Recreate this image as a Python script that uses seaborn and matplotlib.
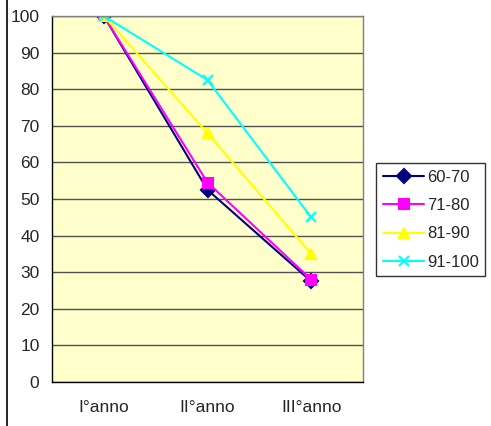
import numpy as np
import pandas as pd
import matplotlib
matplotlib.use('Agg')
import matplotlib.pyplot as plt
import seaborn as sns
from matplotlib.lines import Line2D
from matplotlib.ticker import FixedLocator

# Data
years = ['I°anno', 'II°anno', 'III°anno']
series_names = ['60-70', '71-80', '81-90', '91-100']
v_60_70 = [100, 52.5, 27.5]
v_71_80 = [100, 54.5, 28]
v_81_90 = [100, 68, 35]
v_91_100 = [100, 82.5, 45]

colors = ['#000080', '#FF00FF', '#FFFF00', '#00FFFF']
markers = ['D', 's', '^', 'x']

sns.set_style('white')
plt.rcParams['font.family'] = ['Liberation Sans', 'DejaVu Sans']

fig = plt.figure(figsize=(4.91, 4.26), dpi=100)
ax = fig.add_axes([52 / 491, 1 - 382 / 426, (363 - 52) / 491, (382 - 16) / 426])
ax.set_facecolor('#FFFFCC')

# one lineplot per series (filled and line-art markers can't be mixed in one call)
for name, vals, c, m in zip(series_names, [v_60_70, v_71_80, v_81_90, v_91_100], colors, markers):
    d = pd.DataFrame({'anno': np.arange(len(years)), 'valore': vals})
    sns.lineplot(data=d, x='anno', y='valore', color=c, marker=m, ax=ax,
                 linewidth=1.5, markersize=7.5, markeredgewidth=1.5,
                 markerfacecolor=c, markeredgecolor=c)

ax.set_xlim(-0.5, 2.5)
ax.set_ylim(0, 100)
ax.set_yticks(np.arange(0, 101, 10))
ax.yaxis.grid(True, color='#505050', linewidth=1)
ax.set_axisbelow(True)

ax.xaxis.set_major_locator(FixedLocator([-0.5, 0.5, 1.5, 2.5]))
ax.xaxis.set_minor_locator(FixedLocator([0, 1, 2]))
ax.set_xticklabels([], minor=False)
ax.set_xticklabels(years, minor=True)
ax.tick_params(axis='x', which='major', direction='out', length=5, width=1, color='black')
ax.tick_params(axis='x', which='minor', length=0, pad=13, labelsize=12.5)
ax.tick_params(axis='y', direction='out', length=5, width=1, color='black', labelsize=12.5, pad=4)
ax.set_xlabel('')
ax.set_ylabel('')

for side in ['left', 'bottom']:
    ax.spines[side].set_color('black')
    ax.spines[side].set_linewidth(1)
for side in ['right', 'top']:
    ax.spines[side].set_color('#808080')
    ax.spines[side].set_linewidth(1)

handles = [Line2D([0], [0], color=c, marker=m, linewidth=1.5, markersize=7.5,
                  markerfacecolor=c, markeredgecolor=c, markeredgewidth=1.5)
           for c, m in zip(colors, markers)]
leg = fig.legend(handles, series_names, loc='upper left',
                 bbox_to_anchor=(376 / 491, 1 - 163 / 426),
                 frameon=True, fancybox=False, fontsize=12,
                 handlelength=2.5, handletextpad=0.15, labelspacing=0.8,
                 borderpad=0.4, borderaxespad=0)
leg.get_frame().set_edgecolor('black')
leg.get_frame().set_linewidth(1)

# left border of the chart frame
fig.add_artist(Line2D([7 / 491, 7 / 491], [0, 1], color='black', linewidth=1.2,
                      transform=fig.transFigure))

fig.savefig('out.png', dpi=100)
